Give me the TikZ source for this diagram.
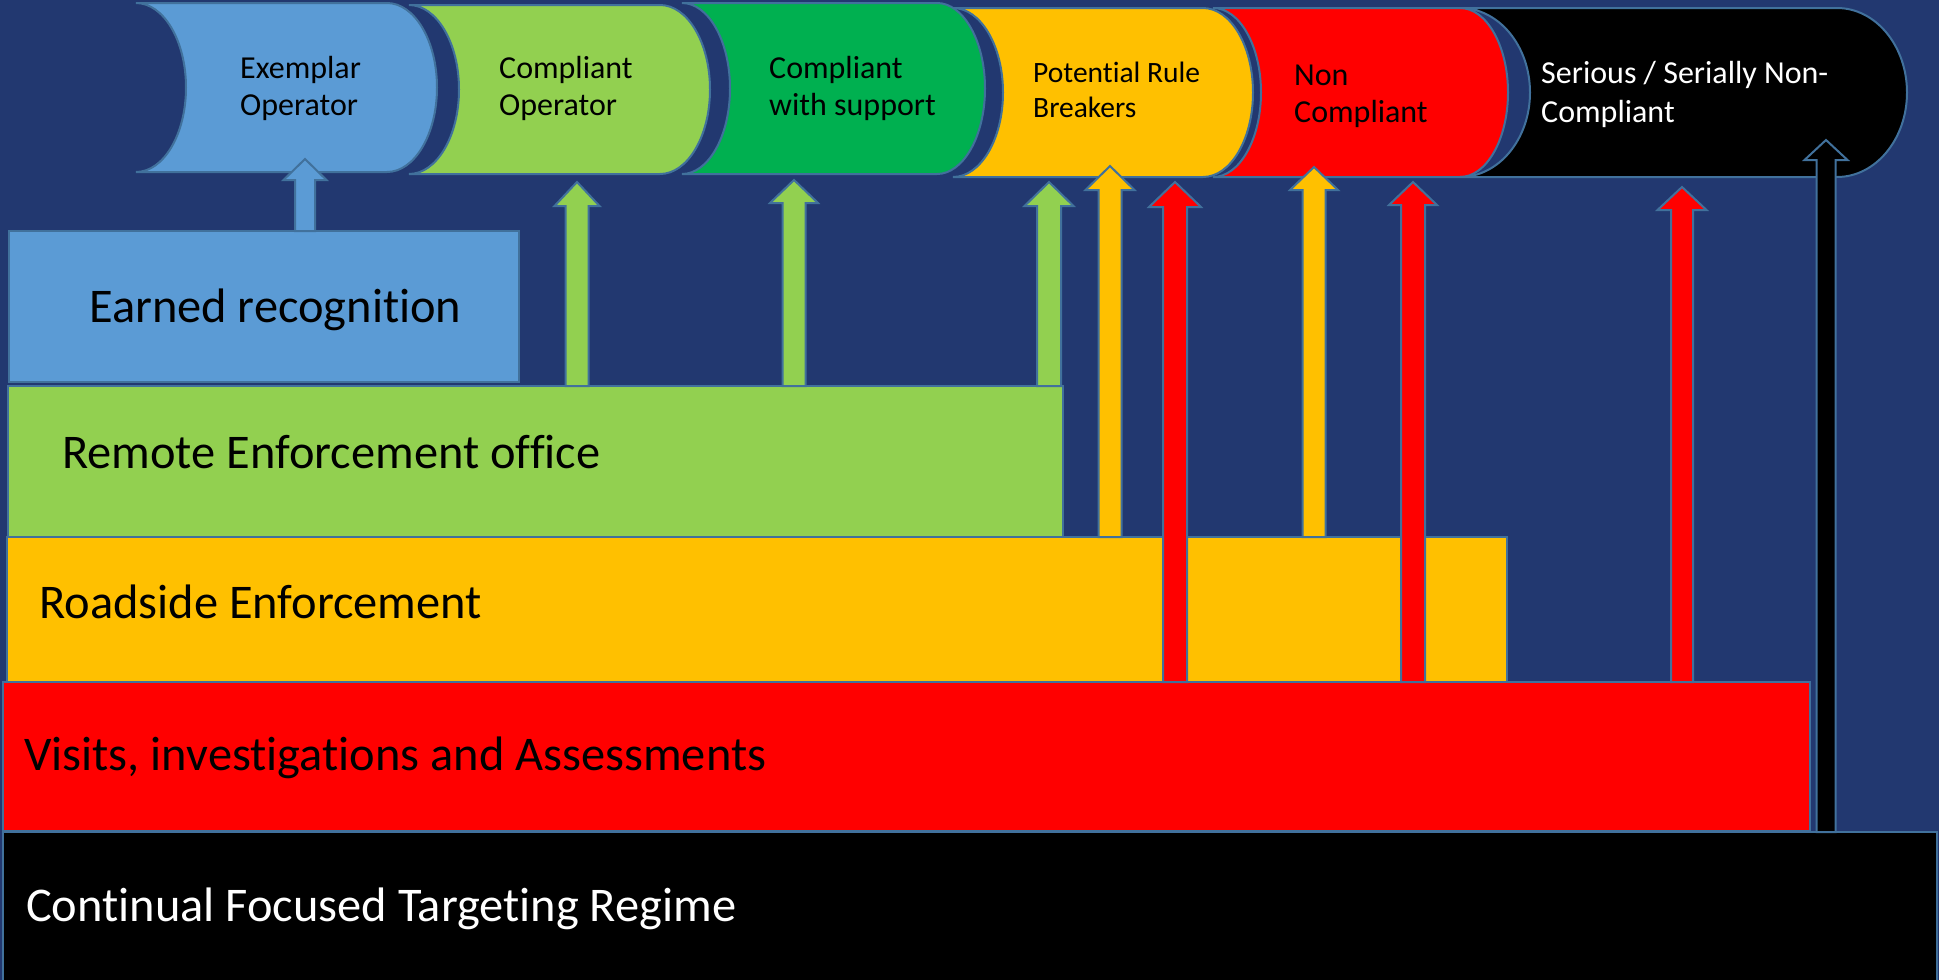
\documentclass[tikz,border=0pt]{standalone}
\usepackage{fontspec}
\setmainfont{Carlito}[Ligatures=CommonOff, RawFeature={-calt,-clig,-liga}]
\definecolor{navy}{HTML}{223870}
\definecolor{outl}{HTML}{41719C}
\definecolor{pblue}{HTML}{5B9BD5}
\definecolor{lgreen}{HTML}{92D050}
\definecolor{dgreen}{HTML}{00B050}
\definecolor{amber}{HTML}{FFC000}
\definecolor{pred}{HTML}{FF0000}
% can shape lying on its side: fill, xL, yT, yB, xR, rx
\newcommand{\canshape}[6]{%
  \path[shapesty, fill=#1] (#2,#3) -- (#5,#3)
    arc[start angle=-90, end angle=90, x radius=#6, y radius={(#4-#3)/2}]
    -- (#2,#4)
    arc[start angle=90, end angle=-90, x radius=#6, y radius={(#4-#3)/2}]
    -- cycle;}
% block arrow: fill, xc, tip y, head base y, source node, shaft half width, head half width
\newcommand{\blockarrow}[7]{%
  \path[shapesty, fill=#1] (#2-#6, 0 |- #5.north) -- (#2-#6,#4) -- (#2-#7,#4)
    -- (#2,#3) -- (#2+#7,#4) -- (#2+#6,#4) -- (#2+#6, 0 |- #5.north) -- cycle;}
\begin{document}
\begin{tikzpicture}[x=1pt,y=-1pt,
  shapesty/.style={draw=outl, line width=2pt, line join=miter},
  box/.style={shapesty, anchor=north west, inner sep=0pt, outer sep=0pt},
  toplbl/.style={anchor=base west, inner sep=0pt, font=\fontsize{32}{38}\selectfont},
  smalllbl/.style={anchor=base west, inner sep=0pt, font=\fontsize{29.5}{35}\selectfont},
  biglbl/.style={anchor=base west, inner sep=0pt, font=\fontsize{48.4}{58}\selectfont}]
\useasboundingbox (0,0) rectangle (1939,980);
\fill[navy] (0,0) rectangle (1939,980);

% top categories
\canshape{pblue}{136}{3}{172}{387}{50}
\canshape{lgreen}{409}{5}{174}{660}{50}
\canshape{dgreen}{682}{3}{174}{937}{48}
\canshape{amber}{953}{8}{177}{1203}{50}
\canshape{pred}{1213}{8}{177}{1460}{48}
\canshape{black}{1460}{8}{177}{1837}{70}

% layers
\node[box, fill=pblue, minimum width=510pt, minimum height=151pt] (earned) at (9,231) {};
\node[box, fill=lgreen, minimum width=1055pt, minimum height=151pt] (remote) at (8,386) {};
\node[box, fill=amber, minimum width=1500pt, minimum height=145pt] (road) at (7,537) {};
\node[box, fill=pred, minimum width=1807pt, minimum height=149pt] (visits) at (3,682) {};
\node[box, fill=black, minimum width=1934pt, minimum height=160pt] (cont) at (3,832) {};

% arrows
\blockarrow{pblue}{305}{159}{180}{earned}{10}{21.5}
\blockarrow{lgreen}{577}{182}{206}{remote}{11.5}{22.5}
\blockarrow{lgreen}{794}{180}{203}{remote}{11.5}{24}
\blockarrow{lgreen}{1049}{182}{206}{remote}{12}{24.5}
\blockarrow{amber}{1110}{166}{190}{road}{11.5}{24.5}
\blockarrow{pred}{1175}{182}{207}{visits}{12}{26}
\blockarrow{amber}{1314}{167}{190}{road}{11.5}{24}
\blockarrow{pred}{1413}{182}{205}{visits}{12}{24}
\blockarrow{pred}{1682}{187}{210}{visits}{11}{24.5}
\blockarrow{black}{1826}{140}{160}{cont}{9.5}{21.5}

% top labels
\node[toplbl] (ex1) at (240,78) {Exemplar};
\node[toplbl] (ex2) at (240,115) {Operator};
\node[toplbl] (co1) at (499,78) {Compliant};
\node[toplbl] (co2) at (499,115) {Operator};
\node[toplbl] (cs1) at (769,78) {Compliant};
\node[toplbl] (cs2) at (769,115) {with support};
\node[smalllbl] (pr1) at (1033,82) {Potential Rule};
\node[smalllbl] (pr2) at (1033,117) {Breakers};
\node[toplbl] (nc1) at (1294,85) {Non};
\node[toplbl] (nc2) at (1294,122) {Compliant};
\node[toplbl, text=white] (sn1) at (1541,83) {Serious / Serially Non-};
\node[toplbl, text=white] (sn2) at (1541,122) {Compliant};

% layer labels
\node[biglbl] (earnedtxt) at (89,322) {Earned recognition};
\node[biglbl] (remotetxt) at (62,468) {Remote Enforcement office};
\node[biglbl] (roadtxt) at (39,618) {Roadside Enforcement};
\node[biglbl] (visitstxt) at (24,770) {Visits, investigations and Assessments};
\node[biglbl, text=white] (conttxt) at (26,921) {Continual Focused Targeting Regime};
\end{tikzpicture}
\end{document}
